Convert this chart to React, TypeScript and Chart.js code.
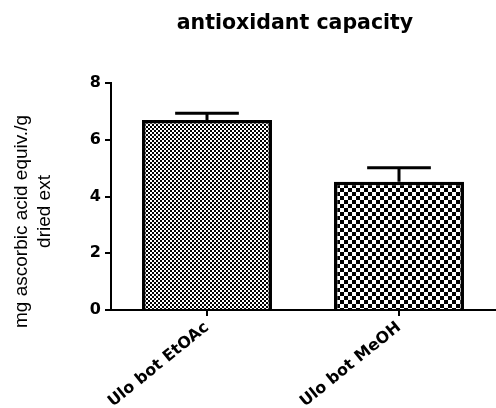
import React, { useEffect, useRef } from "react";
import { Chart, registerables } from "chart.js";

Chart.register(...registerables);

const TITLE = "antioxidant capacity";
const Y_TITLE = ["mg ascorbic acid equiv./g", "dried ext"];
const CATEGORIES = ["Ulo bot EtOAc", "Ulo bot MeOH"];
const MEANS = [6.7, 4.52];
const ERRORS = [0.23, 0.49];
const Y_TICKS = [0, 2, 4, 6, 8];
const CELL_SIZES = [2, 4];

function makeChecker(cell: number): CanvasPattern | string {
  const c = document.createElement("canvas");
  c.width = cell * 2;
  c.height = cell * 2;
  const x = c.getContext("2d");
  if (!x) return "#888";
  x.fillStyle = "#fff";
  x.fillRect(0, 0, cell * 2, cell * 2);
  x.fillStyle = "#000";
  x.fillRect(0, 0, cell, cell);
  x.fillRect(cell, cell, cell, cell);
  return x.createPattern(c, "repeat") || "#888";
}

const errorBars = {
  id: "errorBars",
  afterDatasetsDraw(chart: any) {
    const meta = chart.getDatasetMeta(0);
    const yScale = chart.scales.y;
    const ctx = chart.ctx;
    ctx.save();
    ctx.strokeStyle = "#000";
    ctx.lineWidth = 3;
    ctx.lineCap = "butt";
    meta.data.forEach((bar: any, i: number) => {
      const top = yScale.getPixelForValue(MEANS[i] + ERRORS[i]);
      const base = bar.y;
      const half = bar.width * 0.245;
      ctx.beginPath();
      ctx.moveTo(bar.x, base);
      ctx.lineTo(bar.x, top);
      ctx.moveTo(bar.x - half, top);
      ctx.lineTo(bar.x + half, top);
      ctx.stroke();
    });
    ctx.restore();
  },
};

// Chart title and two-line rotated y-axis title, placed as in the reference
const titles = {
  id: "titles",
  afterDraw(chart: any) {
    const { ctx, chartArea } = chart;
    const midY = (chartArea.top + chartArea.bottom) / 2;
    const midX = (chartArea.left + chartArea.right) / 2;
    ctx.save();
    ctx.fillStyle = "#000";

    ctx.font = 'bold 20.5px "DejaVu Sans", sans-serif';
    ctx.textAlign = "center";
    ctx.textBaseline = "alphabetic";
    ctx.fillText(TITLE, midX - 8, 29);

    const shifts = [25, 15];
    ctx.font = '19px "Liberation Sans", Arial, sans-serif';
    ctx.textBaseline = "middle";
    Y_TITLE.forEach((line, i) => {
      ctx.save();
      ctx.translate(22 + i * 22.5, midY + shifts[i]);
      ctx.rotate(-Math.PI / 2);
      ctx.fillText(line, 0, 0);
      ctx.restore();
    });
    ctx.restore();
  },
};

export default function App() {
  const ref = useRef<HTMLCanvasElement>(null);

  useEffect(() => {
    if (!ref.current) return;
    const patterns = CELL_SIZES.map((s) => makeChecker(s));
    const chart = new Chart(ref.current, {
      type: "bar",
      data: {
        labels: CATEGORIES,
        datasets: [
          {
            data: MEANS,
            backgroundColor: patterns as any,
            borderColor: "#000",
            borderWidth: 3.5,
            barPercentage: 0.677,
            categoryPercentage: 1,
          },
        ],
      },
      plugins: [errorBars, titles],
      options: {
        responsive: false,
        animation: false,
        devicePixelRatio: 1,
        layout: { padding: { left: 0, right: 1, top: 83, bottom: 0 } },
        plugins: {
          legend: { display: false },
          tooltip: { enabled: false },
          title: { display: false },
        },
        scales: {
          x: {
            afterFit: (s: any) => {
              s.height = 98;
            },
            grid: {
              offset: false,
              drawOnChartArea: false,
              drawTicks: true,
              tickLength: 6,
              color: "#000",
              lineWidth: 2,
            },
            border: { display: true, color: "#000", width: 2 },
            ticks: {
              color: "#000",
              autoSkip: false,
              minRotation: 39,
              maxRotation: 39,
              padding: 2,
              font: { family: "DejaVu Sans", weight: "bold", size: 16 },
            },
          },
          y: {
            min: 0,
            max: 8,
            afterFit: (s: any) => {
              s.width = 111;
            },
            afterBuildTicks: (s: any) => {
              s.ticks = Y_TICKS.map((v) => ({ value: v }));
            },
            grid: {
              drawOnChartArea: false,
              drawTicks: true,
              tickLength: 6,
              color: "#000",
              lineWidth: 2,
            },
            border: { display: true, color: "#000", width: 2 },
            ticks: {
              color: "#000",
              padding: 4,
              font: { family: "DejaVu Sans", weight: "bold", size: 16 },
            },
          },
        },
      },
    });
    return () => chart.destroy();
  }, []);

  return (
    <div style={{ position: "absolute", left: 0, top: 0, width: 496, height: 408, background: "#fff" }}>
      <canvas ref={ref} width={496} height={408} />
    </div>
  );
}
